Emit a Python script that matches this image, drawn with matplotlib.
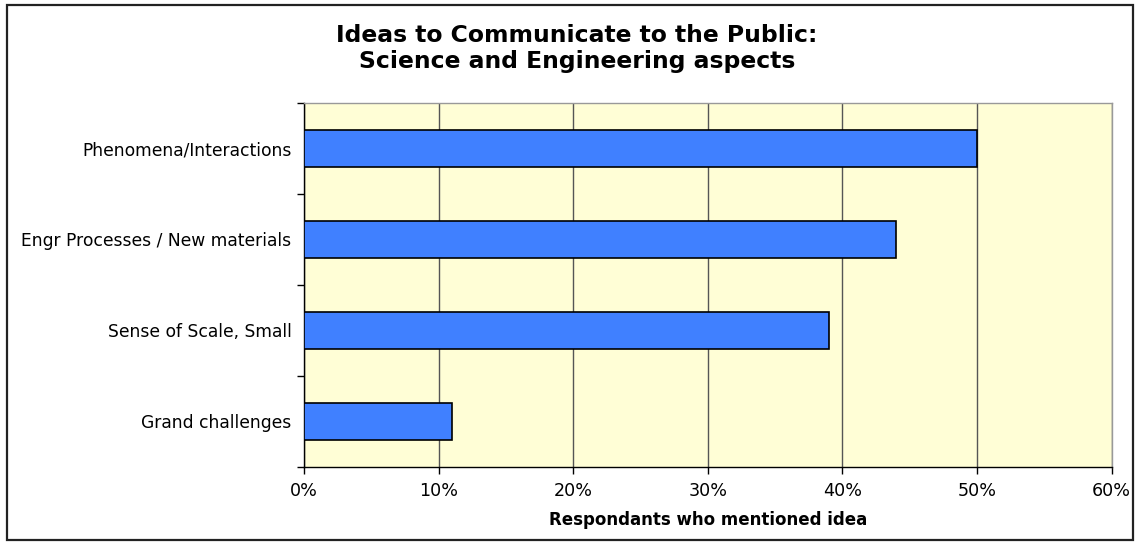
import matplotlib.pyplot as plt
from matplotlib.patches import Rectangle
from matplotlib.ticker import FixedLocator, PercentFormatter

categories = ["Phenomena/Interactions", "Engr Processes / New materials",
              "Sense of Scale, Small", "Grand challenges"]
values = [50, 44, 39, 11]
xticks = [0, 10, 20, 30, 40, 50, 60]

fig = plt.figure(figsize=(11.4, 5.42), dpi=100)
ax = fig.add_axes([0.2667, 0.1384, 0.7085, 0.6716])

# outer chart border
fig.patches.append(Rectangle((7 / 1140, 2 / 542), 1126 / 1140, 535 / 542,
                             transform=fig.transFigure, fill=False,
                             edgecolor="#222222", linewidth=1.6))

ax.set_facecolor("#FFFED6")
pos = list(range(len(categories)))
ax.barh(pos, values, height=0.4, color="#4080FF", edgecolor="black",
        linewidth=1.2, zorder=3)

ax.set_xlim(0, 60)
ax.set_ylim(len(categories) - 0.5, -0.5)
ax.set_xticks(xticks)
ax.xaxis.set_major_formatter(PercentFormatter(decimals=0))
ax.grid(axis="x", color="#555555", linewidth=1.0, zorder=1)

ax.yaxis.set_major_locator(FixedLocator([p - 0.5 for p in pos] + [len(pos) - 0.5]))
ax.yaxis.set_major_formatter(plt.NullFormatter())
ax.set_yticks(pos, minor=True)
ax.set_yticklabels(categories, minor=True)
ax.tick_params(axis="y", which="minor", length=0, pad=9, labelsize=12.3)
ax.tick_params(axis="y", which="major", direction="out", length=5, width=1)
ax.tick_params(axis="x", direction="out", length=5, width=1, labelsize=12.6, pad=6)

for s in ["left", "bottom"]:
    ax.spines[s].set_color("black")
    ax.spines[s].set_linewidth(1.0)
for s in ["top", "right"]:
    ax.spines[s].set_color("#999999")
    ax.spines[s].set_linewidth(1.0)

ax.set_xlabel("Respondants who mentioned idea", fontsize=12,
              fontweight="bold", labelpad=8)
fig.text(0.506, 0.9105, "Ideas to Communicate to the Public:\nScience and Engineering aspects",
         ha="center", va="center", fontsize=16.9, fontweight="bold",
         linespacing=1.15)

fig.savefig("out.png", dpi=100)
